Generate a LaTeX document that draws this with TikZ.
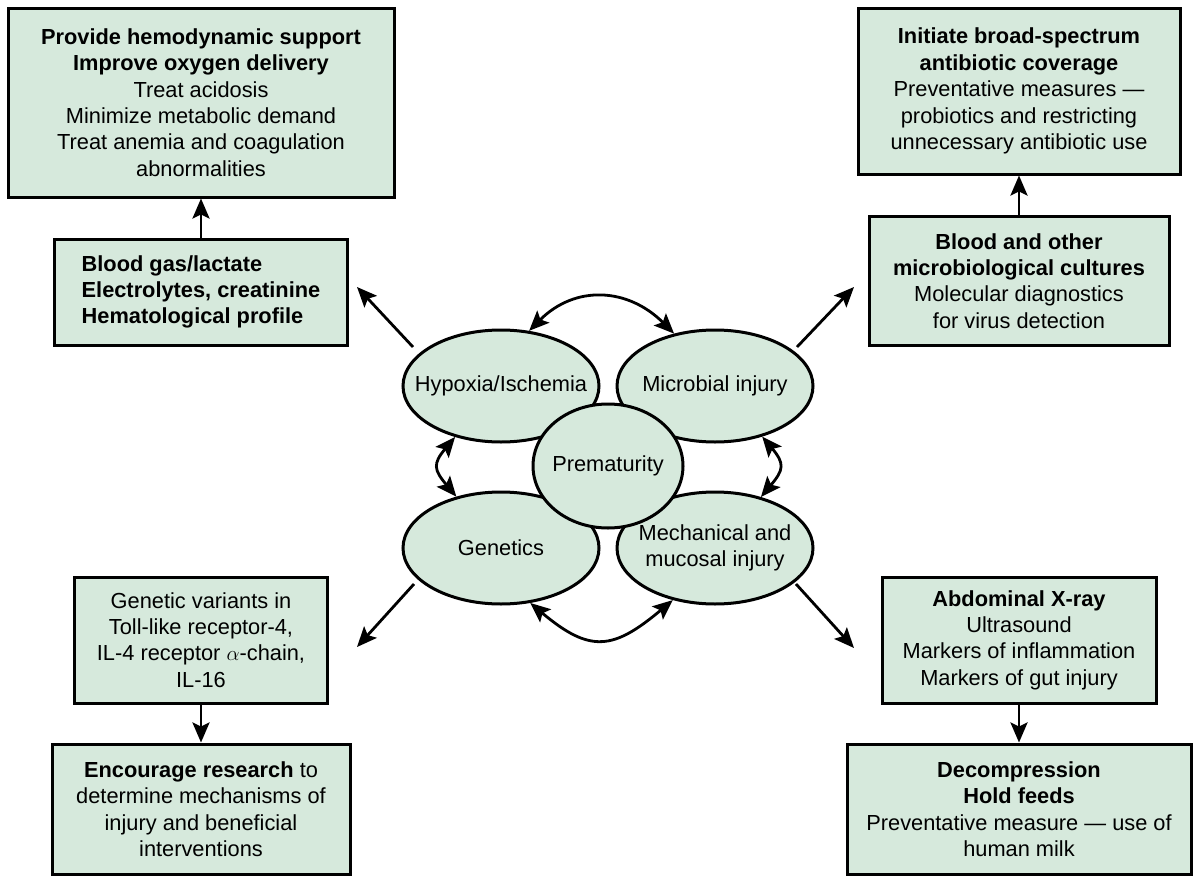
\documentclass[tikz,border=0pt]{standalone}
\usepackage{fontspec}
\setmainfont{Liberation Sans}
\usetikzlibrary{arrows.meta,shapes.geometric}
\definecolor{boxfill}{RGB}{214,233,220}
\begin{document}
\begin{tikzpicture}[x=1pt,y=1pt,
  every node/.style={font=\fontsize{21.8}{26.4}\selectfont},
  box/.style={draw=black, line width=3pt, fill=boxfill, inner sep=0pt, align=center},
  oval/.style={ellipse, draw=black, line width=3pt, fill=boxfill, inner sep=0pt, minimum width=196pt, minimum height=112pt},
  ovaltext/.style={label={[align=center]center:#1}},
  arr/.style={-{Stealth[length=20pt,width=17pt,inset=4pt]}, line width=2.8pt},
  darr/.style={{Stealth[length=20pt,width=17pt,inset=4pt]}-{Stealth[length=20pt,width=17pt,inset=4pt]}, line width=2.8pt}]
\useasboundingbox (0,0) rectangle (1200,-878);
\path[fill=white] (0,0) rectangle (1200,-878);

% boxes
\node[box, minimum width=386pt, minimum height=189pt] (B1) at (201,-102.5)
  {\textbf{Provide hemodynamic support}\\\textbf{Improve oxygen delivery}\\Treat acidosis\\Minimize metabolic demand\\Treat anemia and coagulation\\abnormalities};
\node[box, minimum width=293pt, minimum height=106pt, align=left] (B2) at (201,-292)
  {\textbf{Blood gas/lactate}\\\textbf{Electrolytes, creatinine}\\\textbf{Hematological profile}};
\node[box, minimum width=322pt, minimum height=166pt] (B3) at (1019,-91)
  {\textbf{Initiate broad-spectrum}\\\textbf{antibiotic coverage}\\Preventative measures ---\\probiotics and restricting\\unnecessary antibiotic use};
\node[box, minimum width=300pt, minimum height=129pt] (B4) at (1019,-281)
  {\textbf{Blood and other}\\\textbf{microbiological cultures}\\Molecular diagnostics\\for virus detection};
\node[box, minimum width=253pt, minimum height=126pt] (B5) at (201,-640)
  {Genetic variants in\\Toll-like receptor-4,\\IL-4 receptor $\alpha$-chain,\\IL-16};
\node[box, minimum width=298pt, minimum height=130pt] (B6) at (201,-809)
  {\textbf{Encourage research} to\\determine mechanisms of\\injury and beneficial\\interventions};
\node[box, minimum width=274pt, minimum height=126pt] (B7) at (1019,-640)
  {\textbf{Abdominal X-ray}\\Ultrasound\\Markers of inflammation\\Markers of gut injury};
\node[box, minimum width=344pt, minimum height=130pt] (B8) at (1019,-809)
  {\textbf{Decompression}\\\textbf{Hold feeds}\\Preventative measure --- use of\\human milk};

% ovals
\node[oval, ovaltext={Hypoxia/Ischemia}] (hyp) at (501,-386) {};
\node[oval, ovaltext={Microbial injury}] (mic) at (715,-386) {};
\node[oval, ovaltext={Genetics}] (gen) at (501,-548) {};
\node[oval, ovaltext={Mechanical and\\mucosal injury}] (mech) at (715,-548) {};
\node[oval, minimum width=150pt, minimum height=124pt, ovaltext={Prematurity}] (prem) at (608,-466) {};

% vertical arrows
\draw[arr] (B2.north) -- (B1.south);
\draw[arr] (B4.north) -- (B3.south);
\draw[arr] (B5.south) -- (B6.north);
\draw[arr] (B7.south) -- (B8.north);

% diagonal arrows
\coordinate (h1) at (413,-347); \coordinate (h2) at (357,-287);
\coordinate (m1) at (797,-347); \coordinate (m2) at (854,-287);
\coordinate (g1) at (414,-584); \coordinate (g2) at (357,-647);
\coordinate (k1) at (796,-584); \coordinate (k2) at (854,-648);
\draw[arr] (h1) -- (h2);
\draw[arr] (m1) -- (m2);
\draw[arr] (g1) -- (g2);
\draw[arr] (k1) -- (k2);

% curved double arrows
\draw[darr] (hyp.63) to[out=45, in=135, looseness=1.15] (mic.128);
\draw[darr] (hyp.228) to[out=230, in=130, looseness=1.5] (gen.131);
\draw[darr] (mic.313) to[out=310, in=50, looseness=1.5] (mech.48);
\draw[darr] (gen.298) to[out=-40, in=220, looseness=1.4] (mech.231);
\end{tikzpicture}
\end{document}
